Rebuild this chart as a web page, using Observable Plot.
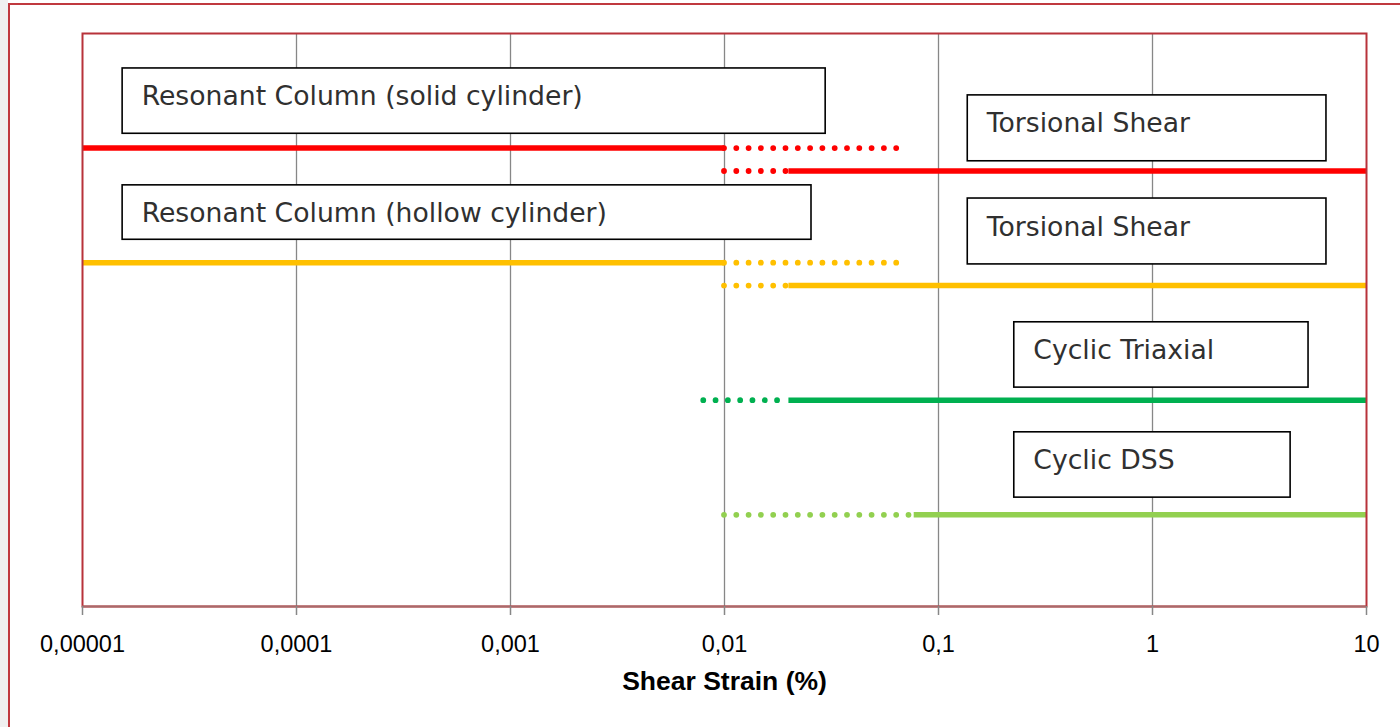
<!DOCTYPE html>
<html>
<head>
<meta charset="utf-8">
<script src="https://cdn.jsdelivr.net/npm/d3@7"></script>
<script src="https://cdn.jsdelivr.net/npm/@observablehq/plot@0.6"></script>
<style>
  html, body { margin: 0; padding: 0; background: #ffffff; overflow: hidden; width: 1400px; height: 727px; }
  #strip { position: absolute; left: 0; top: 0; width: 8px; height: 727px; background: #f0f0f0; }
  #outer { position: absolute; left: 8px; top: 3px; width: 1500px; height: 900px; border: 2px solid #c0393f; box-sizing: border-box; }
  #chart { position: absolute; left: 0; top: 0; }
</style>
</head>
<body>
<div id="strip"></div>
<div id="outer"></div>
<div id="chart"></div>
<script>
// Tick values and labels (shear strain in %)
const tickValues = [0.00001, 0.0001, 0.001, 0.01, 0.1, 1, 10];
const tickLabels = ["0,00001", "0,0001", "0,001", "0,01", "0,1", "1", "10"];

// Rows (one line per test range), vertical position in chart units (0–100)
const rowNames = ["RC solid", "TS solid", "RC hollow", "TS hollow", "Cyclic Triaxial", "Cyclic DSS"];
const rowY = [80, 76, 60, 56, 36, 16];
const rowColors = ["#FF0000", "#FF0000", "#FFC000", "#FFC000", "#00B050", "#92D050"];

// Solid (reliable) strain ranges
const solidFrom = [0.00001, 0.02, 0.00001, 0.02, 0.02, 0.077];
const solidTo   = [0.01, 10, 0.01, 10, 10, 10];

// Dotted (extended) strain ranges
const dottedFrom = [0.01, 0.01, 0.01, 0.01, 0.008, 0.01];
const dottedTo   = [0.065, 0.02, 0.065, 0.02, 0.02, 0.077];

// Label boxes
const boxLabels = ["Resonant Column (solid cylinder)", "Torsional Shear", "Resonant Column (hollow cylinder)", "Torsional Shear", "Cyclic Triaxial", "Cyclic DSS"];
const boxX1 = [0.0000154, 0.137, 0.0000154, 0.137, 0.226, 0.226];
const boxX2 = [0.0297, 6.5, 0.0255, 6.5, 5.36, 4.42];
const boxTop = [93.9, 89.2, 73.5, 71.2, 49.6, 30.4];
const boxBottom = [82.5, 77.7, 64.0, 59.7, 38.2, 19.0];

const axisTitle = "Shear Strain (%)";

const solidData = rowNames.map((n, i) => ({name: n, x1: solidFrom[i], x2: solidTo[i], y: rowY[i], color: rowColors[i]}));
const dottedData = rowNames.map((n, i) => ({name: n, x1: dottedFrom[i], x2: dottedTo[i], y: rowY[i], color: rowColors[i]}));
const boxData = boxLabels.map((t, i) => ({label: t, x1: boxX1[i], x2: boxX2[i], y1: boxBottom[i], y2: boxTop[i]}));
const gridValues = tickValues.slice(1, -1);

const chart = Plot.plot({
  width: 1400,
  height: 727,
  marginLeft: 82,
  marginRight: 34,
  marginTop: 33,
  marginBottom: 121,
  style: {fontFamily: "Liberation Sans, Arial, sans-serif", background: "transparent", overflow: "visible"},
  x: {type: "log", domain: [0.00001, 10]},
  y: {domain: [0, 100], axis: null},
  marks: [
    Plot.ruleX(gridValues, {stroke: "#878787", strokeWidth: 1.3}),
    Plot.rect(boxData, {x1: "x1", x2: "x2", y1: "y1", y2: "y2", fill: "white", stroke: "#000000", strokeWidth: 1.6}),
    Plot.text(boxData, {x: "x1", y: "y2", text: "label", textAnchor: "start", lineAnchor: "bottom", dx: 19, dy: 37,
      fontFamily: "DejaVu Sans, Verdana, sans-serif", fontSize: 26.67, fill: "#303030"}),
    Plot.ruleY(dottedData, {x1: "x1", x2: "x2", y: "y", stroke: "color", strokeWidth: 5.8, strokeDasharray: "0 12.3", strokeLinecap: "round"}),
    Plot.ruleY(solidData, {x1: "x1", x2: "x2", y: "y", stroke: "color", strokeWidth: 5.5, strokeLinecap: "butt"}),
    Plot.frame({stroke: "#b8323a", strokeWidth: 2}),
    Plot.ruleY([0], {stroke: "#a86a6a", strokeWidth: 2}),
    Plot.axisX({
      ticks: tickValues,
      tickFormat: d => tickLabels[tickValues.indexOf(d)],
      tickSize: 9,
      tickPadding: 20,
      stroke: "#878787",
      strokeWidth: 1.5,
      fill: "#000000",
      fontSize: 23.5,
      label: null
    }),
    Plot.text([axisTitle], {frameAnchor: "bottom", lineAnchor: "bottom", dy: 83, fontWeight: "bold", fontSize: 26.5, fill: "#000000",
      fontFamily: "Liberation Sans, Arial, sans-serif"})
  ]
});
document.getElementById("chart").appendChild(chart);
</script>
</body>
</html>
